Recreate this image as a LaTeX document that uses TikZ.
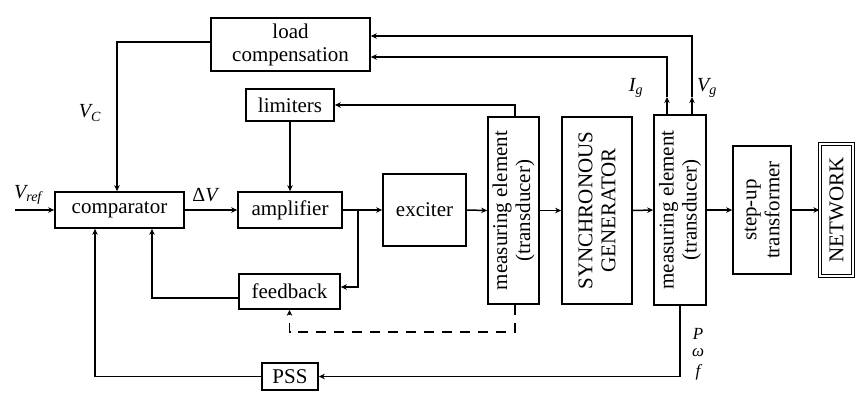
\documentclass[tikz,border=0pt]{standalone}
\usepackage{fontspec}
\setmainfont{Liberation Serif}
\usetikzlibrary{arrows.meta}

\begin{document}
\begin{tikzpicture}[x=1pt,y=-1pt,
  blk/.style={draw,line width=1.7pt,inner sep=0pt},
  txt/.style={inner sep=0pt,align=center,font=\fontsize{21}{23}\selectfont},
  vtxt/.style={txt,rotate=90},
  wire/.style={line width=1.5pt},
  arr/.style={wire,-{Stealth[length=6pt,width=5.5pt]}},
  lbl/.style={inner sep=0pt,font=\fontsize{20}{22}\selectfont\itshape},
  slbl/.style={inner sep=0pt,font=\fontsize{17}{18}\selectfont\itshape}]
\useasboundingbox (0,0) rectangle (856,392);

% blocks
\node[blk,minimum width=159pt,minimum height=53pt] (load) at (290.5,44.5) {};
\node[txt] (loadt) at (load) {load\\compensation};
\node[blk,minimum width=88pt,minimum height=32pt] (lim) at (290,105) {};
\node[txt] (limt) at (lim) {limiters};
\node[blk,minimum width=129pt,minimum height=36pt] (comp) at (119.5,210) {};
\node[txt] (compt) at (comp) {comparator};
\node[blk,minimum width=104pt,minimum height=36pt] (amp) at (290,210) {};
\node[txt] (ampt) at (amp) {amplifier};
\node[blk,minimum width=83pt,minimum height=72pt] (exc) at (424.5,210) {};
\node[txt] (exct) at (exc) {exciter};
\node[blk,minimum width=101pt,minimum height=35pt] (fb) at (289.5,291.5) {};
\node[txt] (fbt) at (fb) {feedback};
\node[blk,minimum width=56pt,minimum height=27pt] (pss) at (290,376.5) {};
\node[txt] (psst) at (pss) {PSS};
\node[blk,minimum width=51pt,minimum height=187pt] (m1) at (513.5,210.5) {};
\node[vtxt] (m1t) at (m1) {measuring element\\(transducer)};
\node[blk,minimum width=70pt,minimum height=187pt] (sg) at (597,210.5) {};
\node[vtxt] (sgt) at (sg) {SYNCHRONOUS\\GENERATOR};
\node[blk,minimum width=52pt,minimum height=190pt] (m2) at (680,210) {};
\node[vtxt] (m2t) at (m2) {measuring element\\(transducer)};
\node[blk,minimum width=58pt,minimum height=128pt] (stp) at (762,210) {};
\node[vtxt] (stpt) at (stp) {step-up\\transformer};
\node[draw,line width=1.1pt,double,double distance=2.4pt,inner sep=0pt,
      minimum width=33pt,minimum height=132pt] (net) at (836.5,210) {};
\node[vtxt] (nett) at (net) {NETWORK};

% helper points
\coordinate (vin) at (15,210);
\coordinate (j) at (358,210);
\coordinate (vcx) at (117,0);
\coordinate (fbx) at (152,0);
\coordinate (pssx) at (95,0);
\coordinate (dl) at (0,332);
\coordinate (ig) at (667,97);
\coordinate (vg) at (692,97);

% forward path
\draw[arr] (vin) -- (comp.west);
\draw[arr] (comp.east) -- (amp.west);
\draw[arr] (amp.east) -- (exc.west);
\draw[arr] (exc.east) -- (m1.west);
\draw[arr] (m1.east) -- (sg.west);
\draw[arr] (sg.east) -- (m2.west);
\draw[arr] (m2.east) -- (stp.west);
\draw[arr] (stp.east) -- (net.west);

% feedback loops
\draw[arr] (j) |- ([yshift=4.5pt]fb.east);
\draw[arr] ([yshift=-6.5pt]fb.west) -| (comp.south -| fbx);
\draw[arr] (pss.west) -| (comp.south -| pssx);
\draw[arr] (m2.south) |- (pss.east);
\draw[arr] ([yshift=2.5pt]load.west) -| (comp.north -| vcx);
\draw[arr] (lim.south) -- (amp.north);
\draw[arr] ([xshift=1.5pt]m1.north) |- (lim.east);
\draw[arr,dash pattern=on 10pt off 8pt] ([xshift=1.5pt]m1.south) |- (fb.south |- dl) -- (fb.south);

% generator current and voltage to load compensation
\draw[arr] (m2.north -| ig) -- (ig);
\draw[arr] (ig) |- ([yshift=-12.5pt]load.east);
\draw[arr] (m2.north -| vg) -- (vg);
\draw[arr] (vg) |- ([yshift=8.5pt]load.east);

% signal labels
\node[lbl] (vref) at (28,195) {V\textsubscript{ref}};
\node[lbl] (dv) at (205,195) {\upshape Δ\itshape V};
\node[lbl] (vc) at (90,113) {V\textsubscript{C}};
\node[lbl] (igl) at (636,88) {I\textsubscript{g}};
\node[lbl] (vgl) at (707,88) {V\textsubscript{g}};
\node[slbl] (pl) at (698,334) {P};
\node[slbl] (wl) at (698,353) {ω};
\node[slbl] (fl) at (698,372) {f};
\end{tikzpicture}
\end{document}
